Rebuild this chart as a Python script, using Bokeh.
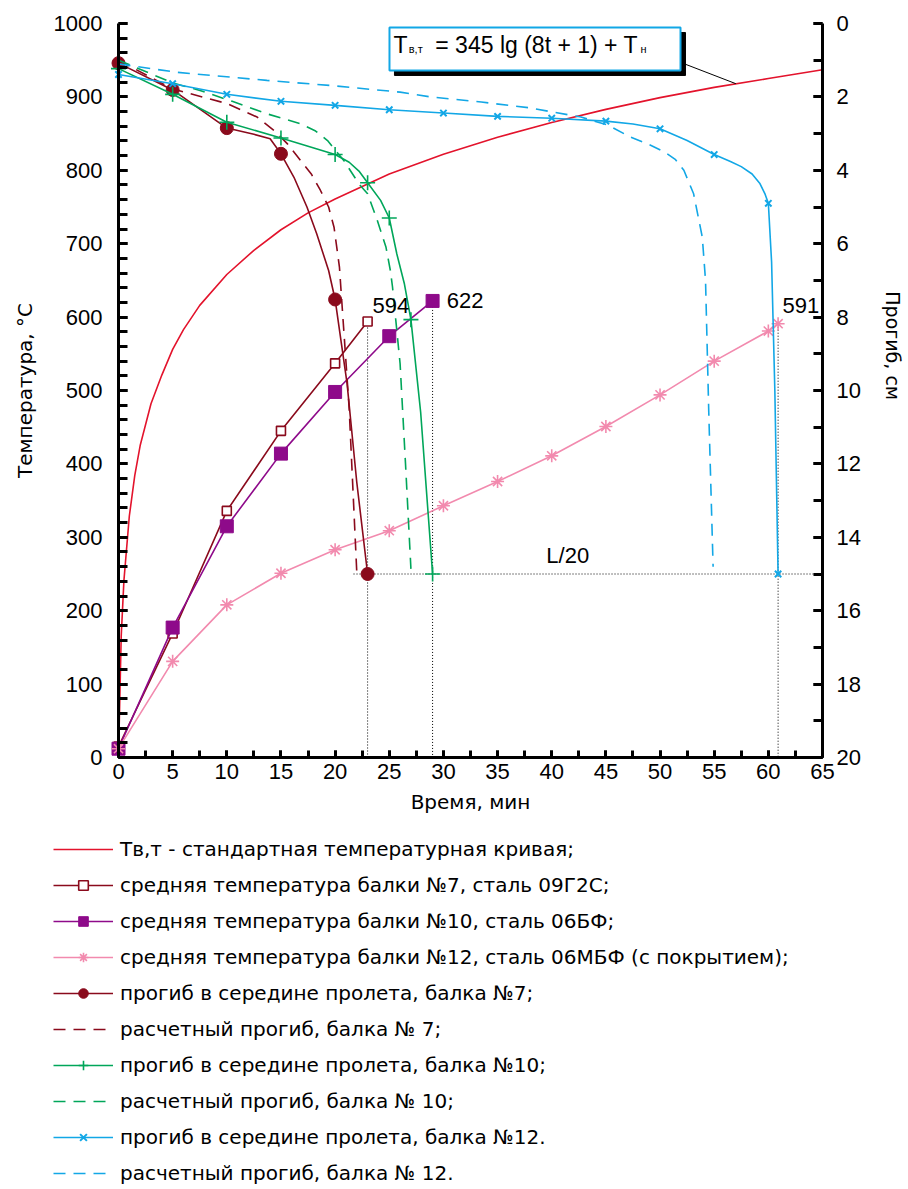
import math
from bokeh.plotting import figure
from bokeh.models import (Range1d, LinearAxis, Legend, LegendItem, Label,
                          BoxAnnotation, SingleIntervalTicker)
from bokeh.embed import file_html
from bokeh.resources import INLINE

NUM_FONT = "Liberation Sans"
TXT_FONT = "DejaVu Sans"

# ---------------- data ----------------
# standard fire curve
std_t = [0, 0.25, 0.5, 1, 1.5, 2, 3, 4, 5, 6, 7.5, 10, 12.5, 15, 17.5, 20, 25, 30, 35, 40, 45, 50, 55, 60, 65]
std_T = [0, 165, 241, 329, 384, 425, 482, 521, 556, 583, 616, 658, 691, 719, 742, 761, 795, 822, 845, 865, 883, 899, 913, 925, 937]

# mean beam temperatures, deg C
t7 = [0, 5, 10, 15, 20, 23]
T7 = [15, 169, 336, 445, 537, 594]
t10 = [0, 5, 10, 15, 20, 25, 29]
T10 = [12, 177, 315, 414, 498, 574, 622]
t12 = [0, 5, 10, 15, 20, 25, 30, 35, 40, 45, 50, 55, 60, 60.9]
T12 = [12, 131, 208, 251, 283, 309, 343, 376, 411, 451, 494, 540, 581, 591]

# measured mid-span deflection, cm (markers)
d7_t = [0, 5, 10, 15, 20, 23]
d7 = [1.08, 1.81, 2.85, 3.55, 7.52, 15.0]
d7_line_t = [0, 5, 10, 12.5, 14, 15, 16.2, 17.4, 18.3, 19.4, 20, 21.1, 22.0, 23]
d7_line = [1.08, 1.81, 2.85, 3.02, 3.14, 3.55, 4.19, 5.0, 5.73, 6.73, 7.52, 9.8, 12.5, 15.0]

d10_t = [0, 5, 10, 15, 20, 23, 25, 27, 29]
d10 = [1.23, 1.93, 2.69, 3.12, 3.57, 4.34, 5.3, 8.07, 15.0]
d10_line_t = [0, 5, 10, 15, 20, 21.3, 22.2, 23, 24.2, 25, 25.7, 26.4, 27, 27.9, 28.6, 29]
d10_line = [1.23, 1.93, 2.69, 3.12, 3.57, 3.78, 4.02, 4.34, 4.82, 5.3, 6.28, 7.1, 8.07, 10.6, 13.4, 15.0]

d12_t = [0, 5, 10, 15, 20, 25, 30, 35, 40, 45, 50, 55, 60, 60.9]
d12 = [1.39, 1.64, 1.93, 2.12, 2.23, 2.35, 2.44, 2.53, 2.58, 2.66, 2.87, 3.57, 4.9, 15.0]
d12_line_t = [0, 5, 10, 15, 20, 25, 30, 35, 40, 45, 47.5, 50, 52.5, 55, 56.5, 57.5, 58.5, 59.2, 59.7, 60, 60.3, 60.6, 60.9]
d12_line = [1.39, 1.64, 1.93, 2.12, 2.23, 2.35, 2.44, 2.53, 2.58, 2.66, 2.74, 2.87, 3.19, 3.57, 3.76, 3.9, 4.1, 4.35, 4.65, 4.9, 6.5, 10.0, 15.0]

# calculated deflection, cm
c7_t = [0, 4.96, 10, 12.8, 14.5, 15.6, 16.8, 17.8, 18.65, 19.4, 19.9, 20.4, 21.3, 22.0]
c7 = [1.0, 1.78, 2.18, 2.55, 2.95, 3.28, 3.73, 4.1, 4.55, 5.0, 5.55, 6.64, 10.5, 14.95]
c10_t = [0, 5, 7.6, 10.5, 13.7, 16.8, 18.2, 19.3, 20.8, 22.2, 23.0, 23.9, 24.7, 25.1, 25.3, 26.0, 26.5, 27.0]
c10 = [1.0, 1.62, 1.83, 2.12, 2.46, 2.73, 2.93, 3.19, 3.73, 4.37, 4.64, 5.37, 6.1, 6.73, 7.18, 9.27, 12.0, 14.86]
c12_t = [0, 5.4, 13.7, 19.6, 26, 28.8, 33.5, 38, 42.7, 45.2, 47.3, 49.0, 50.4, 51.4, 52.2, 53.1, 53.9, 54.2, 54.5, 54.9]
c12 = [1.1, 1.33, 1.55, 1.69, 1.87, 2.0, 2.14, 2.30, 2.55, 2.77, 3.1, 3.3, 3.5, 3.7, 4.0, 4.64, 5.82, 7.0, 10.6, 14.8]

# limit deflection L/20 and failure points
limit_defl = 15
limit_t = [21.7, 65]
fail_t = [23, 29, 60.9]
fail_T = [594, 622, 591]
fail_labels = ["594", "622", "591"]

# formula leader line (time, temperature)
leader_t = [51.9, 57.0]
leader_T = [947, 918]

legend_labels = [
    "Тв,т - стандартная температурная кривая;",
    "средняя температура балки №7, сталь 09Г2С;",
    "средняя температура балки №10, сталь 06БФ;",
    "средняя температура балки №12, сталь 06МБФ (с покрытием);",
    "прогиб в середине пролета, балка №7;",
    "расчетный прогиб, балка № 7;",
    "прогиб в середине пролета, балка №10;",
    "расчетный прогиб, балка № 10;",
    "прогиб в середине пролета, балка №12.",
    "расчетный прогиб, балка № 12.",
]

RED = "#E3132C"
DRED = "#8A0A1C"
PURPLE = "#8E0A8A"
PINK = "#F28AAE"
GREEN = "#00A65A"
BLUE = "#12A7E6"
DASH = "12 8"
LW = 1.6

line_styles = [
    dict(line_color=RED, line_width=LW),
    dict(line_color=DRED, line_width=LW),
    dict(line_color=PURPLE, line_width=LW),
    dict(line_color=PINK, line_width=LW),
    dict(line_color=DRED, line_width=LW),
    dict(line_color=DRED, line_width=LW, line_dash=DASH),
    dict(line_color=GREEN, line_width=LW),
    dict(line_color=GREEN, line_width=LW, line_dash=DASH),
    dict(line_color=BLUE, line_width=LW),
    dict(line_color=BLUE, line_width=LW, line_dash=DASH),
]
marker_styles = [
    None,
    dict(marker="square", size=9, fill_color="white", line_color=DRED, line_width=1.6),
    dict(marker="square", size=13, fill_color=PURPLE, line_color=PURPLE),
    dict(marker="asterisk", size=13, line_color=PINK, line_width=1.6),
    dict(marker="circle", size=13, fill_color=DRED, line_color=DRED),
    None,
    dict(marker="cross", size=15, line_color=GREEN, line_width=1.6),
    None,
    dict(marker="x", size=9, line_color=BLUE, line_width=2),
    None,
]

# ---------------- layout (pixels) ----------------
W, H = 908, 1188
FL, FR, FT, FB = 118, 822, 23, 757          # plot-area edges on the canvas
X0, X1 = 0, 65                              # time axis
Y0, Y1 = 0, 1000                            # temperature axis
D0, D1 = 0, 20                              # deflection axis (0 at top)

xs = (FR - FL) / (X1 - X0)
ys = (FB - FT) / (Y1 - Y0)
ds = (FB - FT) / (D1 - D0)
x_range = Range1d(X0 - FL / xs, X1 + (W - FR) / xs)
y_range = Range1d(Y0 - (H - FB) / ys, Y1 + FT / ys)
d_range = Range1d(start=D1 + (H - FB) / ds, end=D0 - FT / ds)

p = figure(width=W, height=H, x_range=x_range, y_range=y_range,
           output_backend="svg", toolbar_location=None,
           x_axis_location=None, y_axis_location=None,
           min_border_left=0, min_border_right=0, min_border_top=0, min_border_bottom=0)
p.outline_line_color = None
p.grid.visible = False
p.extra_y_ranges = {"defl": d_range}

def style_axis(ax, tick_in):
    ax.axis_line_width = 3
    ax.major_tick_line_width = 3
    ax.minor_tick_line_width = 3
    ax.major_tick_out = 0
    ax.minor_tick_out = 0
    ax.major_tick_in = tick_in
    ax.minor_tick_in = tick_in
    ax.major_label_text_font = NUM_FONT
    ax.major_label_text_font_size = "22px"
    ax.major_label_text_color = "black"
    ax.axis_label_text_font = TXT_FONT
    ax.axis_label_text_font_size = "20px"
    ax.axis_label_text_font_style = "normal"
    ax.axis_label_text_color = "black"

xa = LinearAxis(fixed_location=Y0, bounds=(X0, X1),
                ticker=SingleIntervalTicker(interval=5, num_minor_ticks=2),
                axis_label="Время, мин")
style_axis(xa, 7)
xa.major_label_standoff = 6
xa.axis_label_standoff = 8
p.add_layout(xa, "below")

ya = LinearAxis(fixed_location=X0, bounds=(Y0, Y1),
                ticker=SingleIntervalTicker(interval=100, num_minor_ticks=5),
                axis_label="Температура, °С")
style_axis(ya, 9)
ya.major_label_standoff = 16
ya.axis_label_standoff = 14
p.add_layout(ya, "left")

ra = LinearAxis(y_range_name="defl", fixed_location=X1, bounds=(D0, D1),
                ticker=SingleIntervalTicker(interval=2, num_minor_ticks=2))
style_axis(ra, 9)
ra.major_label_standoff = 14
p.add_layout(ra, "right")

# right axis title
p.add_layout(Label(x=71.55, y=561, text="Прогиб, см", angle=-math.pi / 2,
                   text_font=TXT_FONT, text_font_size="19px", text_color="black",
                   text_align="center", text_baseline="middle"))

# reference dotted lines
for ft, fT in zip(fail_t, fail_T):
    p.line([ft, ft], [fT, Y0], line_color="black", line_width=1, line_dash="1 2")
p.line(limit_t, [limit_defl, limit_defl], y_range_name="defl",
       line_color="black", line_width=1, line_dash="1 2")

# series
series = [
    (std_t, std_T, None, None, "default"),
    (t7, T7, t7, T7, "default"),
    (t10, T10, t10, T10, "default"),
    (t12, T12, t12, T12, "default"),
    (d7_line_t, d7_line, d7_t, d7, "defl"),
    (c7_t, c7, None, None, "defl"),
    (d10_line_t, d10_line, d10_t, d10, "defl"),
    (c10_t, c10, None, None, "defl"),
    (d12_line_t, d12_line, d12_t, d12, "defl"),
    (c12_t, c12, None, None, "defl"),
]
items = []
for lab, (lx, ly, mx, my, rng), ls, ms in zip(legend_labels, series, line_styles, marker_styles):
    rs = [p.line(lx, ly, y_range_name=rng, **ls)]
    if ms is not None:
        rs.append(p.scatter(mx, my, y_range_name=rng, **ms))
    items.append(LegendItem(label=lab, renderers=rs))

# value labels
lab_pos = [(23.45, 616), (30.3, 622), (61.3, 616)]
for (lx, ly), txt in zip(lab_pos, fail_labels):
    p.add_layout(Label(x=lx, y=ly, text=txt, text_font=NUM_FONT, text_font_size="22px",
                       text_align="left", text_baseline="middle", text_color="black"))
p.add_layout(Label(x=39.5, y=275, text="L/20", text_font=NUM_FONT, text_font_size="22px",
                   text_align="left", text_baseline="middle", text_color="black"))

# formula box with shadow and leader line
p.line(leader_t, leader_T, line_color="black", line_width=1)
p.add_layout(BoxAnnotation(left=25.48, right=52.35, top=987.7, bottom=929.2,
                           fill_color="black", fill_alpha=1, line_color="black", line_alpha=1))
p.add_layout(BoxAnnotation(left=25.02, right=51.89, top=994.6, bottom=936.0,
                           fill_color="white", fill_alpha=1, line_color=BLUE, line_width=2, line_alpha=1))
p.add_layout(Label(x=25.4, y=970.7, text="T", text_font=NUM_FONT, text_font_size="23px",
                   text_align="left", text_baseline="middle", text_color="black"))
p.add_layout(Label(x=26.8, y=965, text="в,т", text_font=NUM_FONT, text_font_size="11px",
                   text_align="left", text_baseline="middle", text_color="black"))
p.add_layout(Label(x=29.25, y=970.7, text="= 345 lg (8t + 1) + T", text_font=NUM_FONT, text_font_size="23px",
                   text_align="left", text_baseline="middle", text_color="black"))
p.add_layout(Label(x=48.2, y=965, text="н", text_font=NUM_FONT, text_font_size="11px",
                   text_align="left", text_baseline="middle", text_color="black"))

# legend below the plot area
legend = Legend(items=items, location=(53, 3), orientation="vertical",
                padding=0, margin=0, spacing=12, glyph_width=60, glyph_height=24,
                label_height=24, label_standoff=7,
                label_text_font=TXT_FONT, label_text_font_size="20px", label_text_color="black",
                border_line_color=None, background_fill_alpha=0)
p.add_layout(legend)

open("out.html", "w").write(file_html(p, INLINE))
